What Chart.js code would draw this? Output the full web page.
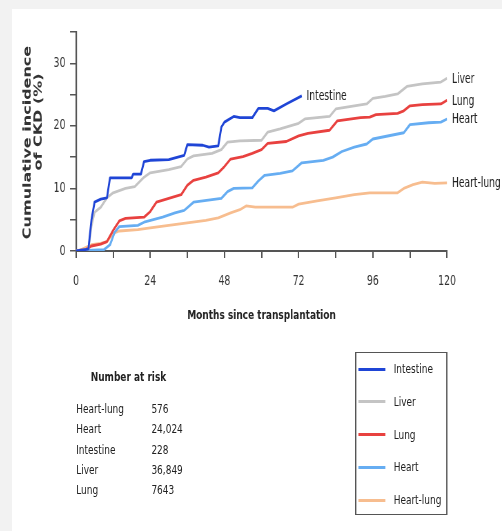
<!DOCTYPE html>
<html>
<head>
<meta charset="utf-8">
<script src="https://cdn.jsdelivr.net/npm/chart.js@4.4.0/dist/chart.umd.min.js"></script>
<style>
  html, body { margin: 0; padding: 0; }
  body {
    background: #f2f2f2;
    width: 502px; height: 531px;
    overflow: hidden; position: relative;
    font-family: 'DejaVu Sans', sans-serif;
    color: #222;
  }
  #card { position: absolute; left: 12px; top: 9px; width: 490px; height: 522px; background: #fff; overflow: hidden; }
  /* the original figure is a horizontally squeezed export, so the whole card is drawn wide and squeezed */
  #squeeze { position: absolute; left: 0; top: 0; width: 710px; height: 522px; transform: scaleX(0.690141); transform-origin: 0 0; }
  #chart { position: absolute; left: 0; top: 0; }
  #riskTitle { position: absolute; left: 114px; top: 358px; font-size: 13px; font-weight: bold; line-height: 20px; white-space: nowrap; }
  #riskRows { position: absolute; left: 93px; top: 390px; font-size: 13px; }
  #riskRows .row { height: 20.3px; line-height: 20.3px; position: relative; white-space: nowrap; }
  #riskRows .num { position: absolute; left: 109px; top: 0; }
  #legend {
    position: absolute; left: 497px; top: 343px; width: 130px; height: 161px;
    border-style: solid; border-color: #555; border-width: 1.5px 2px;
    font-size: 13px;
  }
  #legend .item { position: absolute; left: 0; height: 20px; line-height: 20px; white-space: nowrap; }
  #legend .swatch { position: absolute; left: 3px; top: 8.5px; width: 39px; height: 3px; }
  #legend .text { position: absolute; left: 54px; top: 0; }
</style>
</head>
<body>
<div id="card">
  <div id="squeeze">
    <canvas id="chart" width="710" height="330"></canvas>
    <div id="riskTitle">Number at risk</div>
    <div id="riskRows"></div>
    <div id="legend"></div>
  </div>
</div>
<script>
// series (months since transplantation, cumulative incidence %)
const intestineMonths = [0, 4, 5, 6, 8, 10, 11, 18, 18.5, 21, 22, 24, 30, 35, 36, 41, 43, 46, 47, 48, 51, 53, 57, 59, 62, 64, 68, 73];
const intestinePct    = [0, 0.3, 5, 7.8, 8.3, 8.5, 11.7, 11.7, 12.3, 12.3, 14.3, 14.5, 14.6, 15.3, 17.0, 16.9, 16.6, 16.8, 19.8, 20.6, 21.5, 21.3, 21.3, 22.8, 22.8, 22.4, 23.5, 24.8];

const liverMonths = [0, 4, 5, 6, 8, 10, 12, 16, 19, 22, 24, 30, 34, 36, 38, 44, 47, 49, 53, 60, 62, 66, 72, 74, 82, 84, 90, 94, 96, 100, 104, 107, 112, 118, 120];
const liverPct    = [0, 0.3, 4, 6.2, 7, 8.5, 9.3, 10, 10.3, 11.8, 12.5, 13, 13.5, 14.7, 15.2, 15.6, 16.2, 17.4, 17.6, 17.7, 19.0, 19.5, 20.4, 21.1, 21.5, 22.7, 23.2, 23.5, 24.4, 24.7, 25.1, 26.3, 26.7, 27.0, 27.6];

const lungMonths = [0, 3, 5, 8, 10, 12, 14, 16, 22, 24, 26, 30, 34, 36, 38, 42, 46, 48, 50, 54, 57, 60, 62, 68, 72, 75, 82, 84.5, 92, 95, 97, 104, 106, 108, 112, 118, 120];
const lungPct    = [0, 0.2, 0.8, 1.1, 1.5, 3.3, 4.8, 5.2, 5.4, 6.3, 7.8, 8.4, 9, 10.5, 11.3, 11.8, 12.5, 13.5, 14.7, 15.1, 15.6, 16.2, 17.2, 17.5, 18.4, 18.8, 19.3, 20.8, 21.3, 21.4, 21.8, 22.0, 22.4, 23.2, 23.4, 23.5, 24.1];

const heartMonths = [0, 9, 11, 12.5, 14, 20, 22, 25, 28, 32, 35, 38, 44, 47, 49, 51, 57, 59, 61, 66, 70, 73, 80, 83, 86, 90, 94, 96, 100, 106, 108, 114, 118, 120];
const heartPct    = [0, 0.2, 1.0, 3.0, 3.9, 4.1, 4.6, 5.0, 5.4, 6.1, 6.5, 7.8, 8.2, 8.4, 9.5, 10.0, 10.1, 11.2, 12.1, 12.4, 12.8, 14.1, 14.5, 15.0, 15.9, 16.6, 17.1, 17.9, 18.3, 18.9, 20.2, 20.5, 20.6, 21.1];

const heartLungMonths = [0, 2, 5, 8, 10, 12, 14, 20, 24, 30, 36, 42, 46, 50, 53, 55, 58, 62, 70, 72, 78, 84, 90, 95, 104, 106, 109, 112, 116, 120];
const heartLungPct    = [0, 0.3, 1.0, 1.2, 1.5, 2.8, 3.2, 3.4, 3.7, 4.1, 4.5, 4.9, 5.3, 6.1, 6.6, 7.2, 7.0, 7.0, 7.0, 7.5, 8.0, 8.5, 9.0, 9.3, 9.3, 10.0, 10.6, 11.0, 10.8, 10.9];

const seriesNames  = ['Intestine', 'Liver', 'Lung', 'Heart', 'Heart-lung'];
const seriesColors = ['#1f45d6', '#c4c4c4', '#e8413f', '#66adf2', '#f7bd8f'];

const xTicks = [0, 24, 48, 72, 96, 120];
const yTicks = [0, 10, 20, 30];

const riskGroups  = ['Heart-lung', 'Heart', 'Intestine', 'Liver', 'Lung'];
const riskNumbers = ['576', '24,024', '228', '36,849', '7643'];

const yTitleLines = ['Cumulative incidence', 'of CKD (%)'];

const sans = "'DejaVu Sans', sans-serif";

function toPoints(months, pct) {
  return months.map((m, i) => ({ x: m, y: pct[i] }));
}

const allSeries = [
  toPoints(intestineMonths, intestinePct),
  toPoints(liverMonths, liverPct),
  toPoints(lungMonths, lungPct),
  toPoints(heartMonths, heartPct),
  toPoints(heartLungMonths, heartLungPct)
];

// names written at the end of each curve, plus the two-line rotated y title
const curveLabels = {
  id: 'curveLabels',
  afterDatasetsDraw(chart) {
    const ctx = chart.ctx;
    ctx.save();
    ctx.font = '13.3px ' + sans;
    ctx.fillStyle = '#222';
    ctx.textBaseline = 'middle';
    ctx.textAlign = 'left';
    chart.data.datasets.forEach((ds, i) => {
      const pts = chart.getDatasetMeta(i).data;
      const last = pts[pts.length - 1];
      ctx.fillText(ds.label, last.x + 7, last.y + 1);
    });
    ctx.restore();
  },
  afterDraw(chart) {
    const ctx = chart.ctx;
    const spots = [[22.5, 133.5], [38.4, 113]];
    ctx.save();
    ctx.font = 'bold 16px ' + sans;
    ctx.fillStyle = '#333';
    yTitleLines.forEach((txt, i) => {
      ctx.save();
      ctx.translate(spots[i][0], spots[i][1]);
      ctx.rotate(-Math.PI / 2);
      ctx.textAlign = 'center';
      ctx.textBaseline = 'middle';
      ctx.fillText(txt, 0, 0);
      ctx.restore();
    });
    ctx.restore();
  }
};

new Chart(document.getElementById('chart'), {
  type: 'line',
  data: {
    datasets: seriesNames.map((name, i) => ({
      label: name,
      data: allSeries[i],
      borderColor: seriesColors[i],
      backgroundColor: seriesColors[i],
      borderWidth: 2.8,
      pointRadius: 0,
      tension: 0,
      borderJoinStyle: 'round',
      fill: false
    }))
  },
  options: {
    responsive: false,
    animation: false,
    layout: { padding: { top: 23, right: 79.6, left: 0, bottom: 0 } },
    plugins: {
      legend: { display: false },
      tooltip: { enabled: false }
    },
    scales: {
      x: {
        type: 'linear',
        min: 0, max: 120,
        ticks: {
          stepSize: 12,
          autoSkip: false,
          maxRotation: 0,
          padding: 15,
          color: '#333',
          font: { family: sans, size: 13.5 },
          callback: v => xTicks.includes(v) ? String(v) : ''
        },
        grid: { drawOnChartArea: false, tickLength: 7, color: '#555', lineWidth: 2 },
        border: { color: '#555', width: 2 },
        title: {
          display: true,
          text: 'Months since transplantation',
          color: '#222',
          font: { family: sans, size: 13, weight: 'bold' },
          padding: { top: 0, bottom: 16 }
        },
        afterFit: s => { s.height = 88; }
      },
      y: {
        min: 0, max: 35,
        ticks: {
          stepSize: 5,
          autoSkip: false,
          padding: 6.5,
          color: '#333',
          font: { family: sans, size: 13.5 },
          callback: v => yTicks.includes(v) ? String(v) : ''
        },
        grid: { drawOnChartArea: false, tickLength: 8.7, color: '#555', lineWidth: 1.5 },
        border: { color: '#555', width: 2.2 },
        afterFit: s => { s.width = 92.75; }
      }
    }
  },
  plugins: [curveLabels]
});

// number at risk table
const riskBox = document.getElementById('riskRows');
riskGroups.forEach((g, i) => {
  const row = document.createElement('div');
  row.className = 'row';
  row.innerHTML = '<span>' + g + '</span><span class="num">' + riskNumbers[i] + '</span>';
  riskBox.appendChild(row);
});

// legend box
const legendBox = document.getElementById('legend');
seriesNames.forEach((name, i) => {
  const item = document.createElement('div');
  item.className = 'item';
  item.style.top = (6 + i * 32.75) + 'px';
  item.innerHTML = '<span class="swatch" style="background:' + seriesColors[i] + '"></span><span class="text">' + name + '</span>';
  legendBox.appendChild(item);
});
</script>
</body>
</html>
